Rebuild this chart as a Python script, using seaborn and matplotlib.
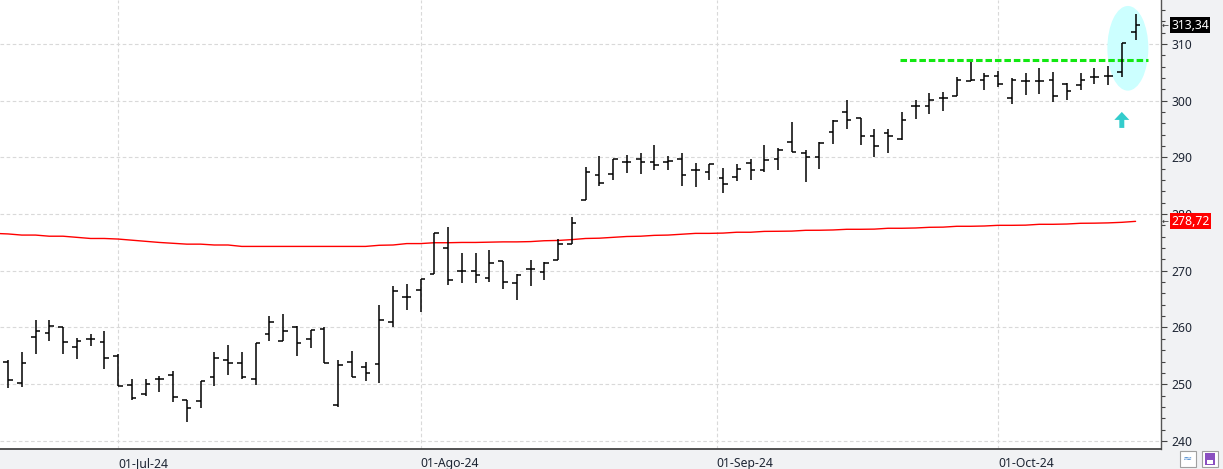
import numpy as np
import pandas as pd
import matplotlib
matplotlib.use("Agg")
import matplotlib.pyplot as plt
from matplotlib.patches import Ellipse, FancyArrow, Rectangle
from matplotlib.ticker import MultipleLocator, FixedLocator
import seaborn as sns

# ---------------- data ----------------
opens = [253.9, 250.2, 258.3, 259.0, 260.0, 256.5, 257.9, 257.4, 254.9, 249.8,
         248.3, 250.9, 251.7, 247.2, 247.0, 251.2, 254.2, 253.7, 250.9, 258.8,
         257.7, 260.0, 257.9, 259.8, 246.3, 254.0, 253.0, 253.5, 261.0, 265.4,
         266.7, 269.4, 274.0, 270.0, 269.9, 268.8, 271.7, 267.8, 270.3, 269.8,
         271.9, 274.8, 282.4, 286.9, 287.1, 289.2, 289.8, 289.2, 289.1, 289.8,
         287.8, 287.4, 286.3, 286.5, 289.0, 287.8, 289.8, 292.7, 290.8, 290.0,
         294.4, 298.0, 297.0, 293.7, 294.3, 293.2, 299.1, 299.1, 300.4, 300.9,
         303.5, 303.6, 304.3, 300.4, 303.4, 303.4, 303.6, 302.9, 302.8, 304.1,
         304.3, 305.1, 312.1]
highs = [254.2, 255.6, 261.4, 261.3, 260.0, 258.1, 258.8, 259.3, 255.3, 250.9,
         250.9, 251.4, 252.4, 247.3, 250.5, 255.6, 256.9, 255.6, 257.2, 262.1,
         262.4, 260.3, 259.6, 260.0, 254.2, 255.9, 254.0, 263.9, 267.3, 267.7,
         268.5, 276.6, 277.7, 273.2, 273.2, 273.7, 271.7, 269.4, 271.9, 271.6,
         275.6, 279.4, 288.3, 290.2, 289.8, 290.4, 290.7, 292.2, 290.2, 290.8,
         289.0, 288.8, 288.1, 288.8, 289.7, 292.2, 291.6, 296.2, 291.3, 292.7,
         296.6, 300.1, 297.0, 295.0, 295.0, 298.0, 300.1, 301.3, 301.6, 304.2,
         306.8, 304.9, 305.3, 304.0, 304.8, 305.7, 305.0, 303.2, 304.9, 305.8,
         306.1, 310.2, 315.3]
lows = [249.3, 249.5, 255.4, 257.7, 255.4, 254.5, 256.8, 252.7, 249.7, 247.3,
        248.0, 248.7, 246.9, 243.4, 245.8, 249.7, 251.7, 250.9, 249.9, 257.7,
        257.7, 254.9, 256.3, 253.7, 246.0, 251.2, 250.6, 250.2, 260.1, 263.0,
        262.7, 269.4, 267.5, 267.9, 267.9, 268.0, 266.8, 264.9, 267.4, 268.3,
        271.9, 274.7, 282.4, 285.0, 286.0, 287.3, 287.0, 287.7, 287.8, 285.0,
        284.7, 286.1, 283.7, 285.8, 286.1, 287.5, 287.7, 290.9, 285.7, 288.0,
        292.4, 295.0, 292.1, 290.1, 290.7, 293.1, 296.7, 297.7, 298.2, 300.9,
        303.5, 301.9, 302.4, 299.5, 301.0, 301.2, 299.8, 300.1, 301.8, 302.9,
        302.7, 304.2, 310.7]
closes = [250.7, 253.7, 259.3, 260.3, 257.4, 257.7, 258.0, 254.7, 249.7, 247.6,
          250.0, 251.0, 247.7, 245.8, 250.5, 254.7, 253.8, 251.3, 257.2, 260.9,
          259.3, 257.2, 259.6, 253.8, 253.3, 251.3, 252.0, 261.3, 266.4, 265.4,
          268.5, 276.6, 268.3, 270.0, 269.3, 271.4, 268.0, 269.3, 270.3, 271.4,
          274.7, 278.4, 287.5, 285.5, 289.7, 289.2, 289.1, 288.7, 289.4, 286.9,
          287.8, 288.8, 285.3, 287.9, 287.8, 289.5, 291.3, 291.0, 290.0, 292.5,
          296.4, 296.6, 293.7, 292.0, 293.7, 296.6, 299.1, 300.2, 300.5, 303.6,
          303.6, 304.3, 302.9, 303.6, 303.4, 303.4, 300.8, 301.7, 303.6, 304.1,
          304.3, 310.2, 313.34]
# moving average (red line); first value belongs to the session before the first bar
ma_values = [276.6, 276.5, 276.3, 276.3, 276.1, 276.1, 275.9, 275.7, 275.7, 275.6,
             275.4, 275.2, 275.0, 274.85, 274.7, 274.7, 274.55, 274.55,
             274.3, 274.3, 274.3, 274.3, 274.3, 274.3, 274.3, 274.3, 274.3, 274.3,
             274.5, 274.55, 274.8, 274.8, 274.95, 274.95, 275.0, 275.0, 275.05,
             275.1, 275.1, 275.15, 275.3, 275.35, 275.5, 275.7, 275.75, 275.9,
             276.05, 276.1, 276.25, 276.3, 276.45, 276.6, 276.6, 276.65, 276.8,
             276.8, 276.95, 276.97, 277.0, 277.14, 277.15, 277.2, 277.32, 277.32,
             277.35, 277.5, 277.5, 277.55, 277.67, 277.7, 277.85, 277.85, 277.9,
             278.02, 278.02, 278.05, 278.2, 278.2, 278.25, 278.38, 278.4, 278.45,
             278.55, 278.72]
month_tick_pos = [8, 30, 51.54, 72]
month_labels = ["01-Jul-24", "01-Ago-24", "01-Sep-24", "01-Oct-24"]
y_tick_values = [240, 250, 260, 270, 280, 290, 300, 310]
last_price_label = "313,34"
ma_label = "278,72"
resistance_level = 307.1
resistance_span = (64.9, 82.9)

# ---------------- style ----------------
sns.set_style("white")
plt.rcParams["font.family"] = ["Noto Sans", "DejaVu Sans"]
plt.rcParams["lines.scale_dashes"] = False

W, H = 1223, 469
fig = plt.figure(figsize=(W / 100, H / 100), dpi=100, facecolor="#f1f2f4")
ax_l, ax_r, ax_b, ax_t = 0, 1161, 449, 0   # pixel edges of plot area
ax = fig.add_axes([ax_l / W, (H - ax_b) / H, (ax_r - ax_l) / W, (ax_b - ax_t) / H])
ax.set_facecolor("white")

n = len(opens)
x = np.arange(n)
df = pd.DataFrame({"x": x, "open": opens, "high": highs, "low": lows, "close": closes})
ma_df = pd.DataFrame({"x": np.arange(-1, n), "ma": ma_values})

ax.set_xlim(-0.582, 83.85)
ax.set_ylim(238.57, 317.76)

# grid
grid_kw = dict(color="#d9d9d9", lw=0.8, linestyle=(0, (2.6, 1.8)), zorder=0)
for yv in y_tick_values:
    ax.axhline(yv, **grid_kw)
for xv in month_tick_pos:
    ax.axvline(xv, **grid_kw)

# highlight ellipse
ax.add_patch(Ellipse((81.44, 309.24), 2.98, 14.94, facecolor="#ccffff",
                     edgecolor="none", zorder=1))

# moving average
sns.lineplot(data=ma_df, x="x", y="ma", color="#ff0000", lw=1.0, ax=ax,
             zorder=2, legend=False)

# OHLC bars
tw = 0.33
ax.vlines(df["x"], df["low"], df["high"], color="black", lw=1.1, zorder=4)
ax.hlines(df["open"], df["x"] - tw, df["x"], color="black", lw=1.1, zorder=4)
ax.hlines(df["close"], df["x"], df["x"] + tw, color="black", lw=1.1, zorder=4)

# resistance dashed line
ax.hlines(resistance_level, *resistance_span, color="#12e812", lw=2.2,
          linestyle=(0, (4.7, 2.1)), zorder=3)

# cyan up arrow
ax.add_patch(FancyArrow(81.0, 295.2, 0, 2.82, width=0.36, head_width=1.09,
                        head_length=1.41, length_includes_head=True,
                        facecolor="#33cccc", edgecolor="none", zorder=5))

# axes styling
for s in ["left", "top"]:
    ax.spines[s].set_visible(False)
ax.spines["right"].set_color("#555555")
ax.spines["right"].set_linewidth(1.0)
ax.spines["bottom"].set_color("#444444")
ax.spines["bottom"].set_linewidth(1.3)

ax.yaxis.tick_right()
ax.yaxis.set_major_locator(FixedLocator(y_tick_values))
ax.yaxis.set_minor_locator(MultipleLocator(2))
ax.tick_params(axis="y", which="major", length=4.3, width=0.8, pad=2.9,
               labelsize=8.8, colors="#444444", labelcolor="#1d2533")
ax.tick_params(axis="y", which="minor", length=3, width=0.8, colors="#444444")
ax.set_yticklabels([str(v) for v in y_tick_values])

ax.set_xticks(month_tick_pos)
ax.set_xticklabels(month_labels, ha="left")
ax.tick_params(axis="x", which="major", length=5.8, width=0.8, pad=0.3,
               labelsize=8.8, colors="#444444", labelcolor="#1d2533")
ax.set_xlabel("")
ax.set_ylabel("")

# price labels on the right axis (the red one covers the 280 tick label, as in the source)
lab_x = 1 + (1171 - ax_r) / (ax_r - ax_l)
arr_x = 1 + 1 / (ax_r - ax_l)
for val, txt, bg in [(closes[-1], last_price_label, "black"),
                     (ma_values[-1], ma_label, "#ff0000")]:
    ax.annotate(txt, xy=(lab_x, val), xycoords=("axes fraction", "data"),
                ha="left", va="center", fontsize=8.8, color="white",
                bbox=dict(boxstyle="square,pad=0.12", fc=bg, ec="none"),
                annotation_clip=False, zorder=10)
    ax.annotate("\u2190", xy=(arr_x, val), xycoords=("axes fraction", "data"),
                ha="left", va="center", fontsize=6, color="#333333",
                annotation_clip=False, family="DejaVu Sans")

# small icons bottom-right
fig.patches.append(Rectangle((1180 / W, 2 / H), 16 / W, 16 / H, transform=fig.transFigure,
                             facecolor="white", edgecolor="#a0a0a0", lw=0.8))
fig.text(1188 / W, 10 / H, "\u2248", color="#4a8ad0", fontsize=8, ha="center",
         va="center", family="DejaVu Sans")
fig.patches.append(Rectangle((1202 / W, 2 / H), 16 / W, 16 / H, transform=fig.transFigure,
                             facecolor="white", edgecolor="#a0a0a0", lw=0.8))
fig.patches.append(Rectangle((1205 / W, 4 / H), 10 / W, 12 / H, transform=fig.transFigure,
                             facecolor="#8a4fc0", edgecolor="none"))
fig.patches.append(Rectangle((1207 / W, 5 / H), 6 / W, 4 / H, transform=fig.transFigure,
                             facecolor="white", edgecolor="none"))

fig.savefig("out.png", dpi=100, facecolor=fig.get_facecolor())
